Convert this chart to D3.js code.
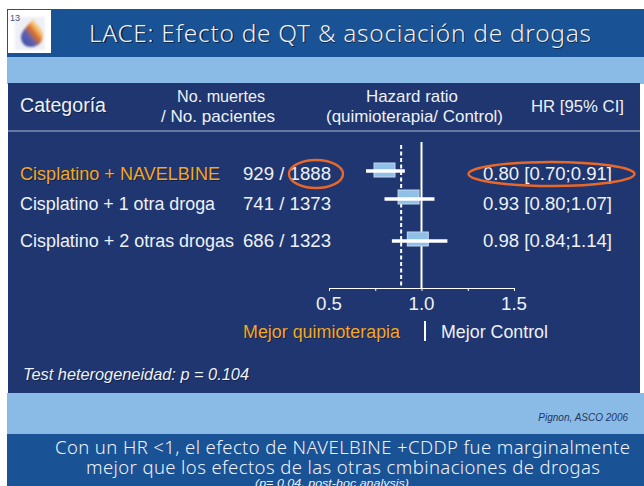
<!DOCTYPE html>
<html><head><meta charset="utf-8">
<script src="https://cdn.jsdelivr.net/npm/d3@7"></script>
<style>
html,body{margin:0;padding:0;background:#fff}
svg{display:block}
text{font-family:"Liberation Sans",Arial,sans-serif;fill:#fff}
.tah{font-family:"Noto Sans",sans-serif}
</style></head><body>
<svg id="c" width="644" height="486"></svg>
<script>
const categories=["Cisplatino + NAVELBINE","Cisplatino + 1 otra droga","Cisplatino + 2 otras drogas"];
const deaths=[929,741,686];
const patients=[1888,1373,1323];
const hr=[0.80,0.93,0.98];
const ciLow=[0.70,0.80,0.84];
const ciHigh=[0.91,1.07,1.14];
const overallHr=0.89;
const tickValues=[0.5,0.75,1.0,1.25,1.5];
const labelledTicks=[0.5,1.0,1.5];

const svg=d3.select("#c");
const rect=(x,y,w,h,f)=>svg.append("rect").attr("x",x).attr("y",y).attr("width",w).attr("height",h).attr("fill",f);
function label(str,x,y,size,opt={}){
  const mk=(dx,dy,fill,op)=>{
    const t=svg.append("text").attr("x",x+dx).attr("y",y+dy).attr("font-size",size).text(str)
      .attr("text-anchor",opt.anchor||"start").style("fill",fill).style("opacity",op);
    if(opt.cls)t.attr("class",opt.cls);
    if(opt.italic)t.attr("font-style","italic");
    if(opt.len){t.attr("textLength",opt.len).attr("lengthAdjust",opt.adj||"spacingAndGlyphs");}
    return t;
  };
  if(opt.shadow)mk(1,1,"#0b1a3c",0.75);
  return mk(0,0,opt.fill||"#eef1f7",1);
}
// backgrounds
rect(7,9,637,48,"#1a5296");
rect(7,57,637,27,"#8abbe6");
rect(7,393,637,41,"#8abbe6");
rect(7,434,637,52,"#1a5296");
rect(8,83,632,310,"#1f3670");
svg.append("line").attr("x1",8).attr("x2",640).attr("y1",131).attr("y2",131).attr("stroke","#aeb8d6").attr("stroke-width",1);

// logo
const defs=svg.append("defs");
const g=defs.append("linearGradient").attr("id","drop").attr("x1",0).attr("y1",1).attr("x2",1).attr("y2",0);
[[0,"#3b4aa0"],[0.35,"#5a60b0"],[0.55,"#e0702a"],[0.72,"#f8d080"],[1,"#b9c0de"]].forEach(s=>g.append("stop").attr("offset",s[0]).attr("stop-color",s[1]));
defs.append("filter").attr("id","soft").append("feGaussianBlur").attr("stdDeviation",0.9);
svg.append("rect").attr("x",7.5).attr("y",9.5).attr("width",44).attr("height",44).attr("fill","#fff").attr("stroke","#1a5296");
rect(15,17,30,33,"#eef0f6").attr("filter","url(#soft)");
svg.append("path").attr("d","M33 19 C31 23 21 30 21 37 C21 43 25 47 31 47 C38 47 43 42 43 35 C43 28 36 25 33 19Z")
  .attr("fill","url(#drop)").attr("filter","url(#soft)");
svg.append("text").attr("x",10).attr("y",21).attr("font-size",9).style("fill","#3c5486").text("13");

// title
label("LACE: Efecto de QT & asociación de drogas",89,42,24.5,{cls:"tah",shadow:true,len:502,adj:"spacing"}).style("font-weight",300);

// header row
label("Categoría",20,112,19.5,{shadow:true,len:86});
label("No. muertes",221,102,17,{anchor:"middle",len:88});
label("/ No. pacientes",218,122,17,{anchor:"middle",len:114});
label("Hazard ratio",412,102,17,{anchor:"middle",len:92});
label("(quimioterapia/ Control)",414.5,122,17,{anchor:"middle",len:177});
label("HR [95% CI]",577.5,112,17,{anchor:"middle",len:93});

// forest plot
const x=d3.scaleLinear().domain([0.5,1.5]).range([329,514]);
const rowY=d3.scaleOrdinal().domain(categories).range([171,199,241]);
const textY=d3.scaleOrdinal().domain(categories).range([180,210,247]);
const axisY=288;
const axis=d3.axisBottom(x).tickValues(tickValues).tickSize(3).tickFormat("");
const ag=svg.append("g").attr("transform",`translate(0,${axisY})`).call(axis);
ag.selectAll("path,line").attr("stroke","#fff").attr("stroke-width",1);
labelledTicks.forEach(v=>label(d3.format(".1f")(v),x(v),310,19,{anchor:"middle",len:26}));

svg.append("line").attr("x1",x(1)).attr("x2",x(1)).attr("y1",142).attr("y2",axisY).attr("stroke","#fff").attr("stroke-width",2);
svg.append("line").attr("x1",x(overallHr)).attr("x2",x(overallHr)).attr("y1",145).attr("y2",286)
  .attr("stroke","#fff").attr("stroke-width",2).attr("stroke-dasharray","4 2.5");

const rowLen=[200,195,214], countLen=[88,88,88], hrLen=[129,129,129];
categories.forEach((c,i)=>{
  const y=rowY(c);
  svg.append("rect").attr("x",x(hr[i])-10.5).attr("y",y-8+(i==0?0:-1)).attr("width",21).attr("height",14)
    .attr("fill","#8fc0e8").attr("stroke","#c6d4ea").attr("stroke-width",1);
  svg.append("line").attr("x1",x(ciLow[i])).attr("x2",x(ciHigh[i])).attr("y1",y).attr("y2",y).attr("stroke","#fff").attr("stroke-width",3.5);
  const ty=textY(c), col=i==0?"#f5a623":"#eef1f7";
  label(c,20,ty,18,{fill:col,shadow:i==0,len:rowLen[i]});
  label(`${deaths[i]} / ${patients[i]}`,243,ty,18,{len:countLen[i]});
  label(`${hr[i].toFixed(2)} [${ciLow[i].toFixed(2)};${ciHigh[i].toFixed(2)}]`,483,ty,18,{len:hrLen[i]});
});

// highlight ellipses
[[316,174,27,14],[551.5,174,83,12]].forEach(e=>{
  svg.append("ellipse").attr("cx",e[0]).attr("cy",e[1]).attr("rx",e[2]).attr("ry",e[3])
    .attr("fill","none").attr("stroke","#e8682a").attr("stroke-width",2.4);
});

// direction labels
label("Mejor quimioterapia",243,338,18,{fill:"#f5a623",shadow:true,len:157});
svg.append("line").attr("x1",425).attr("x2",425).attr("y1",321).attr("y2",341).attr("stroke","#fff").attr("stroke-width",2);
label("Mejor Control",441,338,18,{len:107});

label("Test heterogeneidad: p = 0.104",23,380,16.5,{italic:true,shadow:true,len:226});
label("Pignon, ASCO 2006",628,421,10,{italic:true,anchor:"end",fill:"#24365f"});

label("Con un HR <1, el efecto de NAVELBINE +CDDP fue marginalmente",342.5,454,18.5,{cls:"tah",anchor:"middle",len:575,adj:"spacing"}).style("font-weight",300);
label("mejor que los efectos de las otras cmbinaciones de drogas",343,474,18.5,{cls:"tah",anchor:"middle",len:514,adj:"spacing"}).style("font-weight",300);
label("(p= 0.04, post-hoc analysis)",332,487,10.5,{italic:true,anchor:"middle",len:154});
</script>
</body></html>
